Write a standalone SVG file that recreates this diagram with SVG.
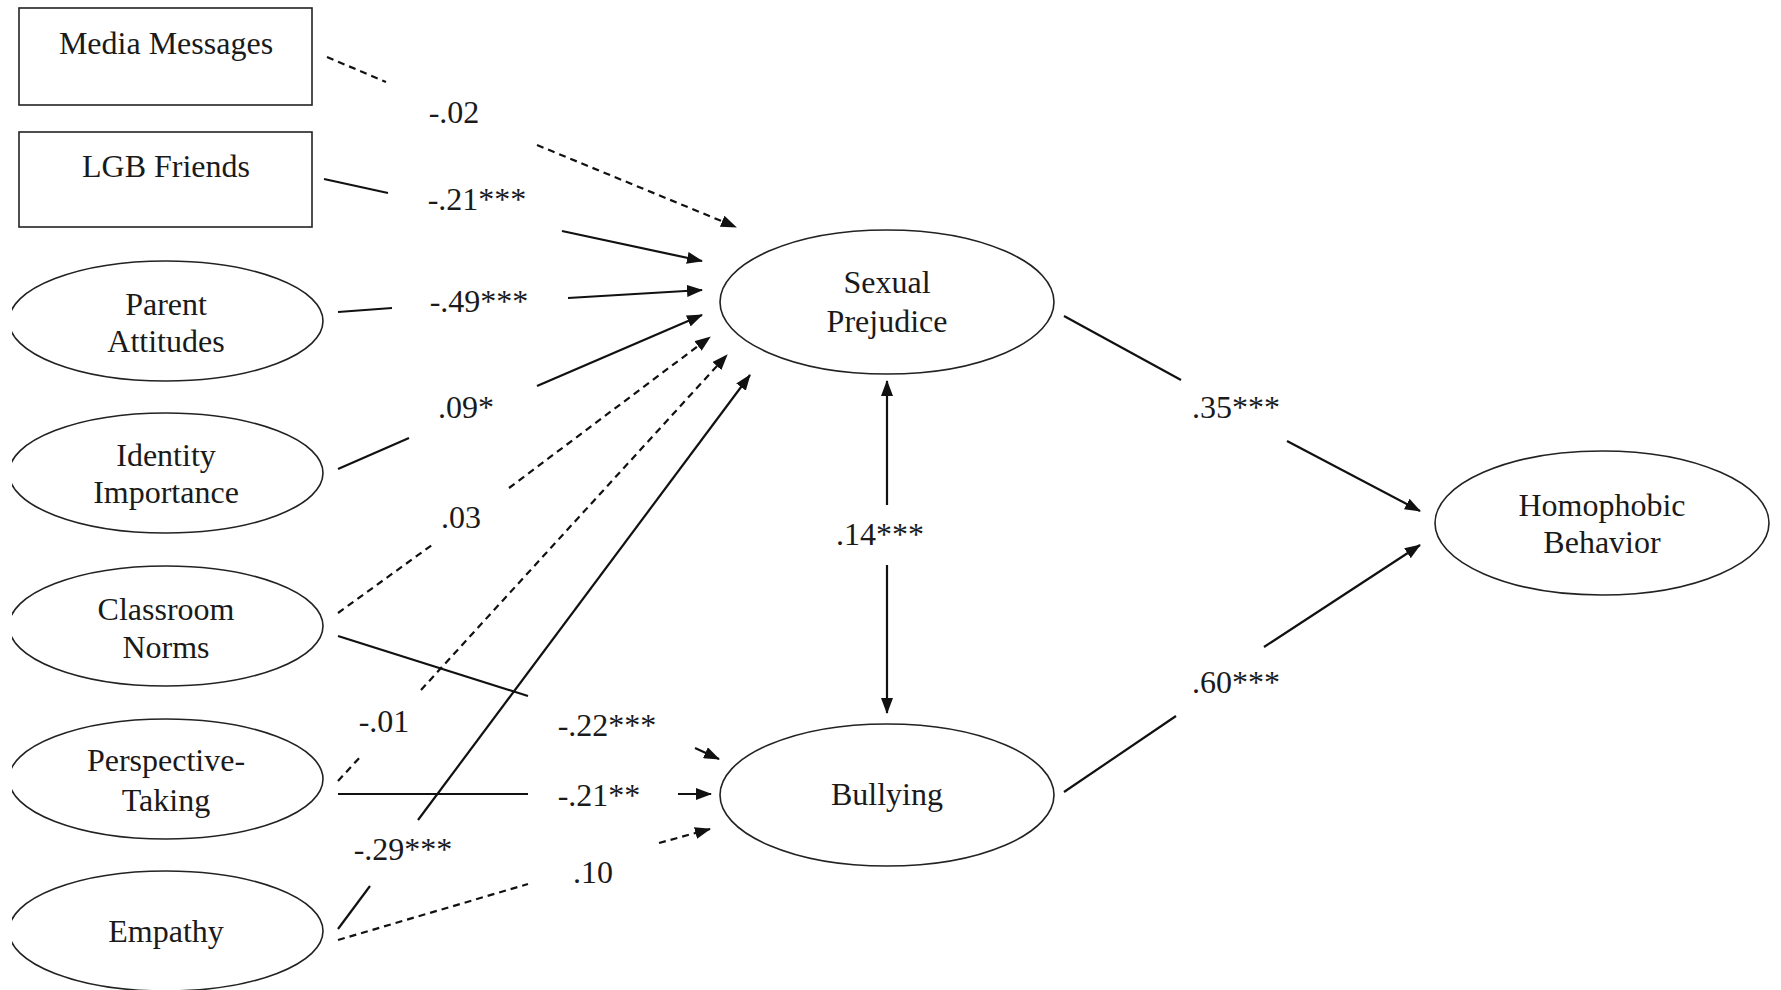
<svg xmlns="http://www.w3.org/2000/svg" width="1781" height="990" viewBox="0 0 1781 990">
<defs>
<marker id="ah" markerUnits="userSpaceOnUse" markerWidth="16" markerHeight="12" refX="15" refY="6" orient="auto-start-reverse">
<path d="M0,0 L16,6 L0,12 z" fill="#111"/>
</marker>
<clipPath id="lc"><rect x="12" y="0" width="1769" height="990"/></clipPath>
<style>
.n{fill:#fff;stroke:#222;stroke-width:1.6}
.t{font-family:"Liberation Serif","Times New Roman",serif;font-size:32px;fill:#1a1a1a;text-anchor:middle}
.s{fill:none;stroke:#111;stroke-width:2.2}
.d{fill:none;stroke:#111;stroke-width:2.2;stroke-dasharray:7 5}
.a{marker-end:url(#ah)}
</style>
</defs>
<g id="media-messages"><rect class="n" x="19" y="8" width="293" height="97"/><text class="t" x="166" y="54">Media Messages</text></g>
<g id="lgb-friends"><rect class="n" x="19" y="132" width="293" height="95"/><text class="t" x="166" y="177">LGB Friends</text></g>
<g id="parent-attitudes" clip-path="url(#lc)"><ellipse class="n" cx="166" cy="321" rx="157" ry="60"/><text class="t" x="166" y="315">Parent</text><text class="t" x="166" y="352">Attitudes</text></g>
<g id="identity-importance" clip-path="url(#lc)"><ellipse class="n" cx="166" cy="473" rx="157" ry="60"/><text class="t" x="166" y="466">Identity</text><text class="t" x="166" y="503">Importance</text></g>
<g id="classroom-norms" clip-path="url(#lc)"><ellipse class="n" cx="166" cy="626" rx="157" ry="60"/><text class="t" x="166" y="620">Classroom</text><text class="t" x="166" y="658">Norms</text></g>
<g id="perspective-taking" clip-path="url(#lc)"><ellipse class="n" cx="166" cy="779" rx="157" ry="60"/><text class="t" x="166" y="771">Perspective-</text><text class="t" x="166" y="811">Taking</text></g>
<g id="empathy" clip-path="url(#lc)"><ellipse class="n" cx="166" cy="931" rx="157" ry="60"/><text class="t" x="166" y="942">Empathy</text></g>
<g id="sexual-prejudice"><ellipse class="n" cx="887" cy="302" rx="167" ry="72"/><text class="t" x="887" y="293">Sexual</text><text class="t" x="887" y="332">Prejudice</text></g>
<g id="bullying"><ellipse class="n" cx="887" cy="795" rx="167" ry="71"/><text class="t" x="887" y="805">Bullying</text></g>
<g id="homophobic-behavior"><ellipse class="n" cx="1602" cy="523" rx="167" ry="72"/><text class="t" x="1602" y="516">Homophobic</text><text class="t" x="1602" y="553">Behavior</text></g>
<g id="connectors">
<line class="d" x1="327" y1="57" x2="386" y2="82"/><line class="d a" x1="537" y1="145" x2="736" y2="227"/>
<line class="s" x1="324" y1="179" x2="388" y2="193"/><line class="s a" x1="562" y1="231" x2="702" y2="261"/>
<line class="s" x1="338" y1="312" x2="392" y2="308"/><line class="s a" x1="568" y1="298" x2="702" y2="290"/>
<line class="s" x1="338" y1="469" x2="409" y2="438"/><line class="s a" x1="537" y1="386" x2="702" y2="315"/>
<line class="d" x1="338" y1="613" x2="432" y2="545"/><line class="d a" x1="509" y1="488" x2="710" y2="337"/>
<line class="s" x1="338" y1="636" x2="528" y2="696"/><line class="s a" x1="695" y1="748" x2="719" y2="759"/>
<line class="d" x1="338" y1="781" x2="362" y2="755"/><line class="d a" x1="421" y1="690" x2="727" y2="355"/>
<line class="s" x1="338" y1="794" x2="528" y2="794"/><line class="s a" x1="678" y1="794" x2="711" y2="794"/>
<line class="s" x1="338" y1="929" x2="370" y2="886"/><line class="s a" x1="418" y1="820" x2="750" y2="375"/>
<line class="d" x1="338" y1="940" x2="528" y2="884"/><line class="d a" x1="659" y1="843" x2="710" y2="829"/>
<line class="s a" x1="887" y1="505" x2="887" y2="381"/><line class="s a" x1="887" y1="565" x2="887" y2="713"/>
<line class="s" x1="1064" y1="316" x2="1181" y2="380"/><line class="s a" x1="1287" y1="441" x2="1420" y2="511"/>
<line class="s" x1="1064" y1="792" x2="1176" y2="716"/><line class="s a" x1="1264" y1="647" x2="1420" y2="545"/>
</g>
<g id="labels">
<text class="t" x="454" y="123">-.02</text>
<text class="t" x="477" y="210">-.21***</text>
<text class="t" x="479" y="312">-.49***</text>
<text class="t" x="466" y="418">.09*</text>
<text class="t" x="461" y="528">.03</text>
<text class="t" x="384" y="732">-.01</text>
<text class="t" x="607" y="736">-.22***</text>
<text class="t" x="599" y="806">-.21**</text>
<text class="t" x="403" y="860">-.29***</text>
<text class="t" x="593" y="883">.10</text>
<text class="t" x="880" y="545">.14***</text>
<text class="t" x="1236" y="418">.35***</text>
<text class="t" x="1236" y="693">.60***</text>
</g>
</svg>
